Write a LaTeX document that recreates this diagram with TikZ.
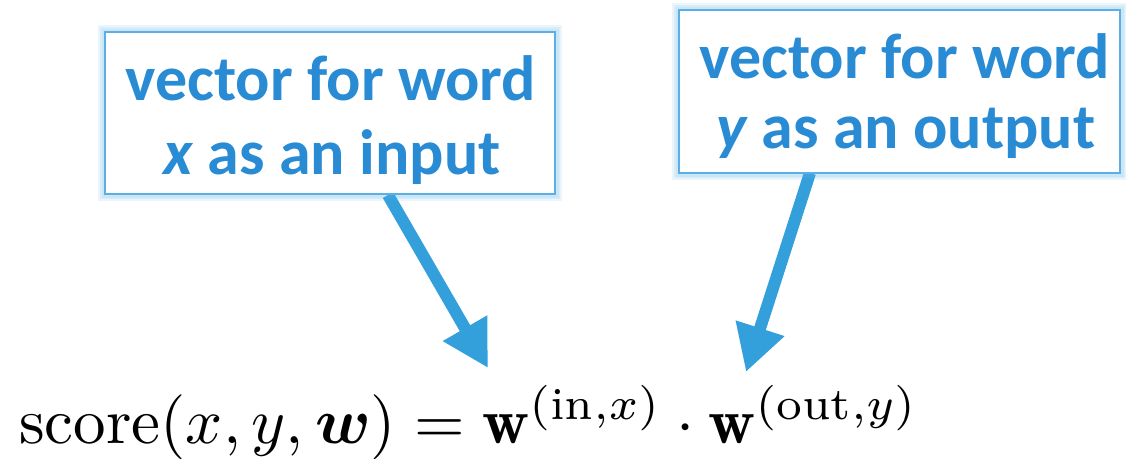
\documentclass[tikz,border=0pt]{standalone}
\usepackage{amsmath}
\usepackage{fontspec}
\newfontfamily\calib{Carlito}
\usetikzlibrary{arrows.meta}
\definecolor{txtblue}{RGB}{41,139,211}
\definecolor{arrblue}{RGB}{51,160,220}
\definecolor{edgeblue}{RGB}{90,176,230}
\tikzset{
  labelbox/.style={draw=edgeblue, line width=2.5pt, fill=white, inner sep=0pt},
  labeltext/.style={anchor=base, inner sep=0pt, text=txtblue,
    font=\calib\bfseries\fontsize{64}{74}\selectfont},
  glow/.style={draw=edgeblue, line width=#1, opacity=0.12},
  bigarrow/.style={draw=arrblue, line width=12pt, -{Triangle[length=46pt,width=48pt]}}
}
\begin{document}
\begin{tikzpicture}[x=1pt,y=-1pt]
\useasboundingbox (0,0) rectangle (1126,458);
% arrows (under boxes)
\coordinate (s1) at (388,195);
\coordinate (t1) at (488,368);
\coordinate (s2) at (810,173);
\coordinate (t2) at (746,372);
\draw[bigarrow] (s1) -- (t1);
\draw[bigarrow] (s2) -- (t2);
% box glows
\foreach \w in {14pt,10pt,7pt}{
  \draw[glow=\w] (105,32) rectangle (555,194);
  \draw[glow=\w] (679,10) rectangle (1120,173);
}
\node[labelbox, minimum width=450pt, minimum height=162pt] (box1) at (330,113) {};
\node[labelbox, minimum width=441pt, minimum height=163pt] (box2) at (899.5,91.5) {};
\node[labeltext] (box1a) at (331,100) {vector for word};
\node[labeltext] (box1b) at (332,174) {{\itshape x} as an input};
\node[labeltext] (box2a) at (905,78) {vector for word};
\node[labeltext] (box2b) at (906,148) {{\itshape y} as an output};
% formula
\node[anchor=base west, inner sep=0pt, scale=6.5] (formula) at (18,443)
  {$\mathrm{score}(x,y,\boldsymbol{w}) = \mathbf{w}^{(\mathrm{in},x)}\cdot\mathbf{w}^{(\mathrm{out},y)}$};
\end{tikzpicture}
\end{document}
